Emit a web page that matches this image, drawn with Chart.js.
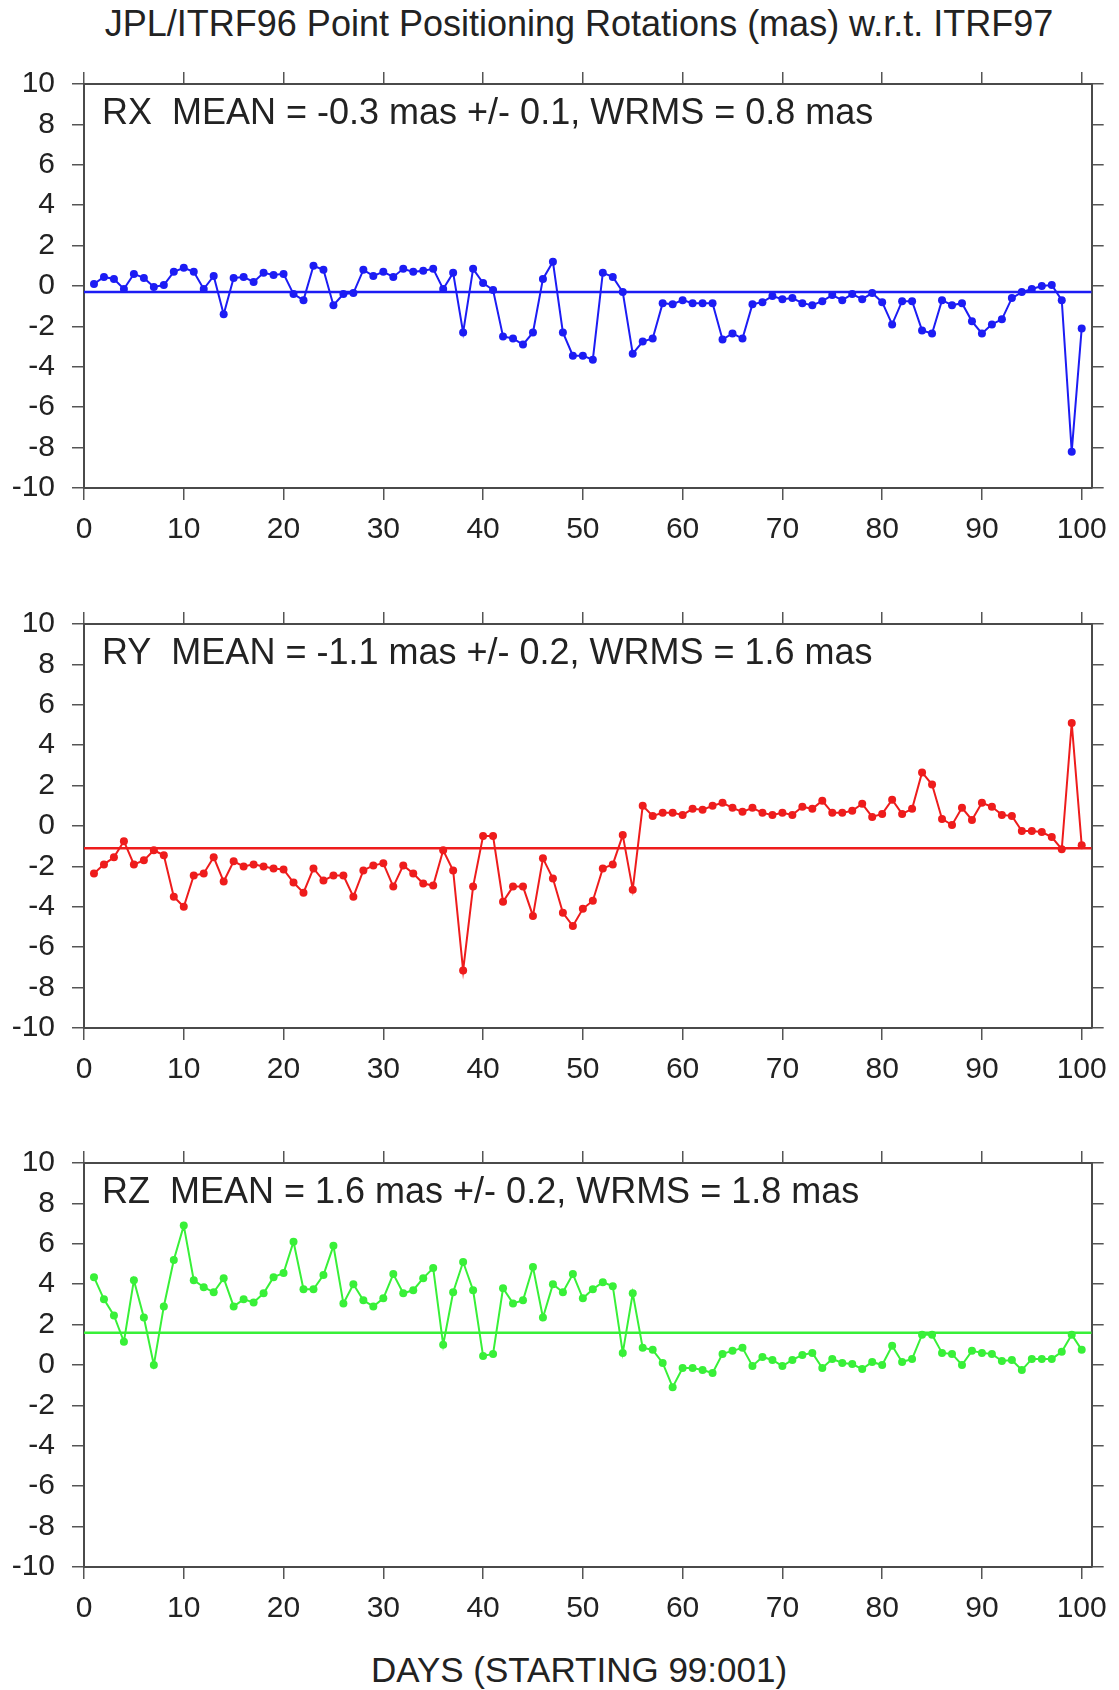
<!DOCTYPE html>
<html>
<head>
<meta charset="utf-8">
<script src="https://cdn.jsdelivr.net/npm/chart.js@4"></script>
<style>
  body { margin: 0; background: #fff; width: 1119px; height: 1690px; position: relative; overflow: hidden;
         font-family: "Liberation Sans", Arial, sans-serif; color: #222; }
  canvas { position: absolute; left: 0; }
  .txt { position: absolute; left: 0; width: 1158px; text-align: center; white-space: nowrap;
         font-size: 35px; line-height: 35px; }
</style>
</head>
<body>
<div class="txt" style="top:6px;font-size:36px">JPL/ITRF96 Point Positioning Rotations (mas) w.r.t. ITRF97</div>
<canvas id="rx" width="1119" height="500" style="top:44px"></canvas>
<canvas id="ry" width="1119" height="500" style="top:584px"></canvas>
<canvas id="rz" width="1119" height="500" style="top:1123px"></canvas>
<div class="txt" style="top:1652px">DAYS (STARTING 99:001)</div>
<script>
// day numbers (starting 99:001)
const days = [1, 2, 3, 4, 5, 6, 7, 8, 9, 10, 11, 12, 13, 14, 15, 16, 17, 18, 19, 20,
  21, 22, 23, 24, 25, 26, 27, 28, 29, 30, 31, 32, 33, 34, 35, 36, 37, 38, 39, 40,
  41, 42, 43, 44, 45, 46, 47, 48, 49, 50, 51, 52, 53, 54, 55, 56, 57, 58, 59, 60,
  61, 62, 63, 64, 65, 66, 67, 68, 69, 70, 71, 72, 73, 74, 75, 76, 77, 78, 79, 80,
  81, 82, 83, 84, 85, 86, 87, 88, 89, 90, 91, 92, 93, 94, 95, 96, 97, 98, 99, 100];

const rx = [0.1, 0.45, 0.35, -0.15, 0.6, 0.4, -0.05, 0.05, 0.7, 0.9,
  0.7, -0.15, 0.5, -1.4, 0.4, 0.45, 0.2, 0.65, 0.55, 0.6,
  -0.4, -0.7, 1.0, 0.8, -0.95, -0.4, -0.35, 0.8, 0.5, 0.7,
  0.45, 0.85, 0.7, 0.75, 0.85, -0.15, 0.65, -2.3, 0.85, 0.15,
  -0.2, -2.5, -2.6, -2.9, -2.3, 0.35, 1.2, -2.3, -3.45, -3.45,
  -3.65, 0.65, 0.45, -0.3, -3.35, -2.75, -2.6, -0.85, -0.9, -0.7,
  -0.85, -0.85, -0.85, -2.65, -2.35, -2.6, -0.9, -0.8, -0.5, -0.65,
  -0.6, -0.85, -0.95, -0.75, -0.45, -0.7, -0.4, -0.65, -0.35, -0.8,
  -1.9, -0.75, -0.75, -2.2, -2.35, -0.7, -0.95, -0.85, -1.75, -2.35,
  -1.9, -1.65, -0.6, -0.3, -0.15, 0.0, 0.05, -0.7, -8.2, -2.1];

const ry = [-2.35, -1.9, -1.55, -0.75, -1.9, -1.7, -1.2, -1.45, -3.5, -4.0,
  -2.45, -2.35, -1.55, -2.75, -1.75, -2.0, -1.9, -2.0, -2.1, -2.15,
  -2.8, -3.3, -2.1, -2.7, -2.45, -2.45, -3.5, -2.2, -1.95, -1.85,
  -3.0, -1.95, -2.35, -2.85, -2.95, -1.2, -2.2, -7.15, -3.0, -0.5,
  -0.5, -3.75, -3.0, -3.0, -4.45, -1.6, -2.6, -4.3, -4.95, -4.1,
  -3.7, -2.1, -1.9, -0.45, -3.15, 1.0, 0.5, 0.65, 0.65, 0.55,
  0.85, 0.8, 1.0, 1.15, 0.9, 0.7, 0.9, 0.65, 0.55, 0.65,
  0.55, 0.95, 0.85, 1.25, 0.65, 0.65, 0.75, 1.1, 0.45, 0.6,
  1.3, 0.6, 0.85, 2.65, 2.05, 0.35, 0.05, 0.9, 0.3, 1.15,
  0.95, 0.55, 0.5, -0.25, -0.25, -0.3, -0.55, -1.15, 5.1, -0.95];

const rz = [4.35, 3.25, 2.45, 1.15, 4.2, 2.35, 0.0, 2.9, 5.2, 6.9,
  4.2, 3.85, 3.6, 4.3, 2.9, 3.25, 3.1, 3.55, 4.35, 4.55,
  6.1, 3.75, 3.75, 4.45, 5.9, 3.05, 4.0, 3.2, 2.9, 3.3,
  4.5, 3.55, 3.7, 4.3, 4.8, 1.0, 3.6, 5.1, 3.7, 0.45,
  0.55, 3.8, 3.05, 3.2, 4.85, 2.35, 4.0, 3.6, 4.5, 3.3,
  3.75, 4.1, 3.9, 0.6, 3.55, 0.85, 0.75, 0.1, -1.1, -0.15,
  -0.15, -0.25, -0.4, 0.55, 0.7, 0.85, -0.05, 0.4, 0.25, -0.05,
  0.25, 0.5, 0.6, -0.15, 0.3, 0.1, 0.05, -0.2, 0.15, 0.0,
  0.95, 0.15, 0.3, 1.5, 1.5, 0.6, 0.55, 0.0, 0.7, 0.6,
  0.55, 0.2, 0.25, -0.25, 0.3, 0.3, 0.3, 0.65, 1.5, 0.75];

const means = [-0.3, -1.1, 1.6];
const labels = [
  'RX  MEAN = -0.3 mas +/- 0.1, WRMS = 0.8 mas',
  'RY  MEAN = -1.1 mas +/- 0.2, WRMS = 1.6 mas',
  'RZ  MEAN = 1.6 mas +/- 0.2, WRMS = 1.8 mas'
];
const colors = ['#1c1cf4', '#ee1c1c', '#38f038'];

Chart.defaults.font.family = '"Liberation Sans", Arial, sans-serif';
Chart.defaults.color = '#222';

// text inside the frame, top left
const panelLabel = {
  id: 'panelLabel',
  afterDraw(chart, args, opts) {
    const ctx = chart.ctx, area = chart.chartArea;
    ctx.save();
    ctx.font = '36px "Liberation Sans", Arial, sans-serif';
    ctx.fillStyle = '#222';
    ctx.textBaseline = 'alphabetic';
    ctx.fillText(opts.text, area.left + 18, area.top + 40);
    ctx.restore();
  }
};

const frameGrid = { drawOnChartArea: false, tickLength: 12, color: '#555', lineWidth: 1.5 };
const frameBorder = { color: '#4a4a4a', width: 2 };

function makePanel(id, values, mean, color, label) {
  return new Chart(document.getElementById(id), {
    type: 'line',
    data: {
      datasets: [{
        data: days.map((d, i) => ({ x: d, y: values[i] })),
        borderColor: color,
        backgroundColor: color,
        borderWidth: 2,
        pointRadius: 4,
        pointBorderWidth: 0,
        tension: 0
      }, {
        data: [{ x: 0, y: mean }, { x: 101, y: mean }],
        borderColor: color,
        borderWidth: 2.5,
        pointRadius: 0
      }]
    },
    plugins: [panelLabel],
    options: {
      responsive: false,
      animation: false,
      plugins: { legend: { display: false }, tooltip: { enabled: false }, panelLabel: { text: label } },
      scales: {
        x: {
          type: 'linear', position: 'bottom', min: 0, max: 101,
          afterFit: s => { s.height = 56; },
          ticks: { stepSize: 10, includeBounds: false, padding: 12, font: { size: 30 } },
          grid: frameGrid, border: frameBorder
        },
        xTop: {
          type: 'linear', position: 'top', min: 0, max: 101,
          afterFit: s => { s.height = 40; },
          ticks: { display: false, stepSize: 10, includeBounds: false },
          grid: frameGrid, border: frameBorder
        },
        y: {
          type: 'linear', position: 'left', min: -10, max: 10,
          afterFit: s => { s.width = 84; },
          ticks: { stepSize: 2, padding: 17, font: { size: 30 } },
          grid: frameGrid, border: frameBorder
        },
        yRight: {
          type: 'linear', position: 'right', min: -10, max: 10,
          afterFit: s => { s.width = 24; },
          ticks: { display: false, stepSize: 2 },
          grid: frameGrid, border: frameBorder
        }
      }
    }
  });
}

makePanel('rx', rx, means[0], colors[0], labels[0]);
makePanel('ry', ry, means[1], colors[1], labels[1]);
makePanel('rz', rz, means[2], colors[2], labels[2]);
</script>
</body>
</html>
